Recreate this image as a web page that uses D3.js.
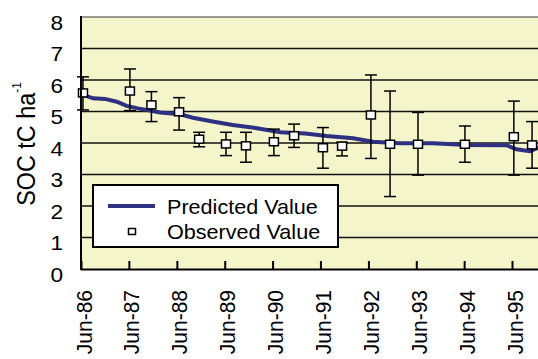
<!DOCTYPE html>
<html>
<head>
<meta charset="utf-8">
<script src="https://cdn.jsdelivr.net/npm/d3@7"></script>
<style>
  body { margin: 0; background: #fff; }
  svg { display: block; }
  text { font-family: "Liberation Sans", Arial, sans-serif; fill: #000; }
</style>
</head>
<body>
<svg id="chart" width="538" height="359"></svg>
<script>
// Soil organic carbon: modelled trend vs. field measurements (mean ± error)
const yTicks = [0, 1, 2, 3, 4, 5, 6, 7, 8];
const xTickLabels = ["Jun-86", "Jun-87", "Jun-88", "Jun-89", "Jun-90",
                     "Jun-91", "Jun-92", "Jun-93", "Jun-94", "Jun-95"];
const seriesNames = ["Predicted Value", "Observed Value"];
const yTitle = "SOC tC ha";
const yTitleSup = "-1";

const predictedDates = [
  "1986-06-01", "1986-09-01", "1986-12-01", "1987-03-01", "1987-05-15",
  "1987-08-10", "1988-01-25", "1988-06-25", "1988-10-01", "1989-03-01",
  "1989-08-01", "1990-02-01", "1990-08-01", "1991-02-05", "1991-07-20",
  "1992-02-05", "1992-07-05", "1993-01-25", "1993-10-05", "1994-06-20",
  "1995-04-20", "1995-07-05", "1995-10-15", "1995-12-31"
];
const predictedValues = [
  5.55, 5.42, 5.40, 5.31, 5.18,
  5.10, 4.97, 4.91, 4.80, 4.68,
  4.57, 4.47, 4.34, 4.30, 4.22,
  4.15, 4.04, 3.99, 3.99, 3.94,
  3.93, 3.80, 3.74, 3.87
];

const observedDates = [
  "1986-06-16", "1987-06-09", "1987-11-20", "1988-06-18", "1988-11-18",
  "1989-06-11", "1989-11-10", "1990-06-11", "1990-11-12", "1991-06-20",
  "1991-11-13", "1992-06-20", "1992-11-13", "1993-06-14", "1994-06-07",
  "1995-06-15", "1995-11-01"
];
const observedValues = [
  5.59, 5.65, 5.21, 4.99, 4.12,
  3.97, 3.91, 4.04, 4.23, 3.85,
  3.90, 4.89, 3.96, 3.96, 3.96,
  4.20, 3.94
];
const observedLow = [
  5.05, 5.03, 4.68, 4.41, 3.88,
  3.60, 3.39, 3.60, 3.86, 3.20,
  3.59, 3.51, 2.30, 2.98, 3.39,
  2.98, 3.20
];
const observedHigh = [
  6.10, 6.35, 5.63, 5.44, 4.34,
  4.34, 4.34, 4.44, 4.60, 4.49,
  4.02, 6.16, 5.65, 4.97, 4.54,
  5.33, 4.68
];

const parseDay = d3.timeParse("%Y-%m-%d");
const parseTick = d3.timeParse("%b-%y");

const W = 538, H = 359;
const plot = { left: 81, top: 17, bottom: 269, right: 560 };
const navy = "#2e3082";
const sx = 1.08; // horizontal glyph stretch used for all labels

const x = d3.scaleTime()
  .domain([new Date(1986, 5, 1), new Date(1996, 5, 1)])
  .range([plot.left, plot.right]);
const y = d3.scaleLinear().domain([0, 8]).range([plot.bottom, plot.top]);

const svg = d3.select("#chart");

// plot area background
svg.append("rect")
  .attr("x", plot.left).attr("y", plot.top)
  .attr("width", W - plot.left + 10).attr("height", plot.bottom - plot.top)
  .attr("fill", "#f5f5cc");

// horizontal gridlines
svg.append("g").selectAll("line")
  .data(yTicks.filter(v => v > 0 && v < 8))
  .join("line")
  .attr("x1", plot.left).attr("x2", W + 5)
  .attr("y1", d => y(d)).attr("y2", d => y(d))
  .attr("stroke", "#111").attr("stroke-width", 1.5);

// top border of plot area
svg.append("line")
  .attr("x1", plot.left).attr("x2", W + 5)
  .attr("y1", y(8)).attr("y2", y(8))
  .attr("stroke", "#777").attr("stroke-width", 1.5);

// predicted trend
const predicted = predictedDates.map((d, i) => ({ date: parseDay(d), value: predictedValues[i] }));
svg.append("path")
  .datum(predicted)
  .attr("fill", "none")
  .attr("stroke", navy)
  .attr("stroke-width", 4)
  .attr("d", d3.line().x(d => x(d.date)).y(d => y(d.value)));

// observed values with error bars
const observed = observedDates.map((d, i) => ({
  date: parseDay(d), value: observedValues[i], lo: observedLow[i], hi: observedHigh[i]
}));
const obs = svg.append("g").selectAll("g").data(observed).join("g");
const cap = 6;
obs.append("line")
  .attr("x1", d => x(d.date)).attr("x2", d => x(d.date))
  .attr("y1", d => y(d.lo)).attr("y2", d => y(d.hi))
  .attr("stroke", "#000").attr("stroke-width", 1.5);
obs.append("line")
  .attr("x1", d => x(d.date) - cap).attr("x2", d => x(d.date) + cap)
  .attr("y1", d => y(d.hi)).attr("y2", d => y(d.hi))
  .attr("stroke", "#000").attr("stroke-width", 1.5);
obs.append("line")
  .attr("x1", d => x(d.date) - cap).attr("x2", d => x(d.date) + cap)
  .attr("y1", d => y(d.lo)).attr("y2", d => y(d.lo))
  .attr("stroke", "#000").attr("stroke-width", 1.5);
obs.append("rect")
  .attr("x", d => x(d.date) - 4.5).attr("y", d => y(d.value) - 4)
  .attr("width", 9).attr("height", 8)
  .attr("fill", "#fff").attr("stroke", "#000").attr("stroke-width", 1.5);

// x axis: inward ticks, rotated month labels
const xTickDates = xTickLabels.map(parseTick);
const xAxis = svg.append("g")
  .attr("transform", `translate(0,${plot.bottom})`)
  .call(d3.axisBottom(x).tickValues(xTickDates).tickSize(-8).tickFormat((d, i) => xTickLabels[i]));
xAxis.select(".domain").remove();
xAxis.selectAll(".tick line").attr("stroke", "#000").attr("stroke-width", 2);
xAxis.selectAll(".tick text")
  .attr("x", 0).attr("y", 0).attr("dy", 0)
  .attr("text-anchor", "end")
  .attr("font-size", 21)
  .attr("transform", `translate(10,21) scale(${sx},1) rotate(-90)`);

// y axis labels
const yAxis = svg.append("g")
  .attr("transform", `translate(${plot.left},0)`)
  .call(d3.axisLeft(y).tickValues(yTicks).tickSize(0).tickFormat(d3.format("d")));
yAxis.select(".domain").remove();
yAxis.selectAll(".tick text")
  .attr("x", 0).attr("y", 0).attr("dy", 0)
  .attr("text-anchor", "end")
  .attr("font-size", 21)
  .attr("transform", `translate(-18,12) scale(${sx},1)`);

// axis lines
svg.append("line")
  .attr("x1", plot.left).attr("x2", plot.left)
  .attr("y1", plot.top - 1).attr("y2", plot.bottom + 1)
  .attr("stroke", "#000").attr("stroke-width", 2);
svg.append("line")
  .attr("x1", plot.left).attr("x2", W + 5)
  .attr("y1", plot.bottom + 0.5).attr("y2", plot.bottom + 0.5)
  .attr("stroke", "#000").attr("stroke-width", 2);

// y axis title with superscript
const yt = svg.append("text")
  .attr("text-anchor", "middle")
  .attr("font-size", 23.4)
  .attr("transform", `translate(35,144) scale(${sx},1) rotate(-90)`);
yt.append("tspan").text(yTitle);
yt.append("tspan").attr("font-size", 12).attr("dy", -13).text(yTitleSup);

// legend
const lg = svg.append("g");
lg.append("rect")
  .attr("x", 93).attr("y", 185).attr("width", 245).attr("height", 62)
  .attr("fill", "#fff").attr("stroke", "#000").attr("stroke-width", 2);
lg.append("line")
  .attr("x1", 108).attr("x2", 155).attr("y1", 206).attr("y2", 206)
  .attr("stroke", navy).attr("stroke-width", 4);
lg.append("rect")
  .attr("x", 128.5).attr("y", 228.5).attr("width", 7).attr("height", 6)
  .attr("fill", "#fff").attr("stroke", "#000").attr("stroke-width", 1.5);
lg.selectAll("g.item").data(seriesNames).join("g")
  .attr("class", "item")
  .attr("transform", (d, i) => `translate(167,${214 + i * 25}) scale(${sx},1)`)
  .append("text")
  .attr("font-size", 20)
  .text(d => d);
</script>
</body>
</html>
